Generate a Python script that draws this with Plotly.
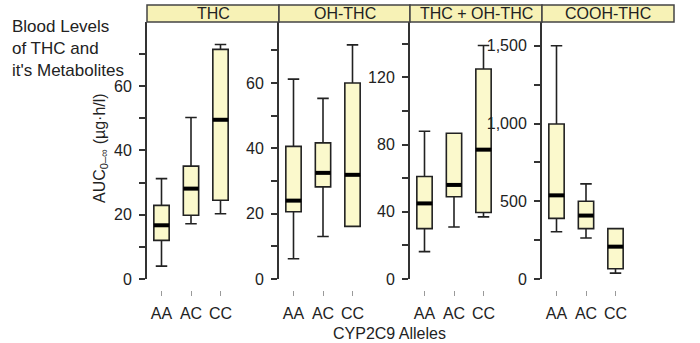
import plotly.graph_objects as go

# ---------------- data ----------------
alleles = ["AA", "AC", "CC"]
panels = ["THC", "OH-THC", "THC + OH-THC", "COOH-THC"]

thc_low = [4, 17.2, 20.3]
thc_q1 = [12, 19.8, 24.5]
thc_med = [16.7, 28.1, 49.5]
thc_q3 = [22.9, 35.1, 71.4]
thc_high = [31.2, 50.2, 72.9]

oh_low = [6.2, 13, 16.1]
oh_q1 = [20.6, 28.2, 16.1]
oh_med = [24, 32.5, 31.9]
oh_q3 = [40.6, 41.7, 60]
oh_high = [61.2, 55.3, 71.7]

sum_low = [16.3, 31, 37]
sum_q1 = [30, 49, 39.6]
sum_med = [45, 56, 77]
sum_q3 = [61, 86.8, 125]
sum_high = [88, 86.8, 139]

cooh_low = [304, 264, 38]
cooh_q1 = [390, 324, 66]
cooh_med = [538, 408, 208]
cooh_q3 = [997, 500, 324]
cooh_high = [1500, 612, 324]

series = [
    (thc_low, thc_q1, thc_med, thc_q3, thc_high),
    (oh_low, oh_q1, oh_med, oh_q3, oh_high),
    (sum_low, sum_q1, sum_med, sum_q3, sum_high),
    (cooh_low, cooh_q1, cooh_med, cooh_q3, cooh_high),
]

# ---------------- styling ----------------
W, H = 700, 343
FONT = "Liberation Sans, Arial, Helvetica, sans-serif"
TXT = "#222222"
BOX_FILL = "#FBF9CC"
STRIP_FILL = "#F7F2B6"
LINE = "#222222"

def fx(p):
    return p / W

def fy(p):
    return 1 - p / H

lefts = [147, 279, 410, 542]
rights = [279, 410, 542, 674]
y_top_px, y_bot_px = 22, 279
xaxis_px = 290
step_px, off_px = 29.5, 14.5
box_w = 0.52

y_ranges = [[0, 79.9], [0, 78.7], [0, 153], [0, 1653]]
y_dticks = [20, 20, 40, 500]
y_minor = [10, 10, 20, 250]
y_formats = ["d", "d", "d", ",d"]

fig = go.Figure()
layout = dict(
    width=W, height=H, autosize=False,
    margin=dict(l=0, r=0, t=0, b=0, pad=0),
    paper_bgcolor="white", plot_bgcolor="rgba(0,0,0,0)",
    showlegend=False,
    font=dict(family=FONT, size=16, color=TXT),
)
shapes = []
annotations = []

for k in range(4):
    sfx = "" if k == 0 else str(k + 1)
    xa, ya = "x" + sfx, "y" + sfx
    low, q1, med, q3, high = series[k]
    pos = list(range(len(alleles)))
    fig.add_trace(go.Box(
        x=pos, q1=q1, median=med, q3=q3, lowerfence=low, upperfence=high,
        width=box_w, whiskerwidth=0.75, boxpoints=False,
        fillcolor=BOX_FILL, line=dict(color=LINE, width=1.6),
        xaxis=xa, yaxis=ya, hoverinfo="skip",
    ))
    mx, my = [], []
    for i, m in zip(pos, med):
        mx += [i - box_w / 2, i + box_w / 2, None]
        my += [m, m, None]
    fig.add_trace(go.Scatter(
        x=mx, y=my, mode="lines", line=dict(color="black", width=4),
        xaxis=xa, yaxis=ya, hoverinfo="skip",
    ))

    L, R = lefts[k], rights[k]
    x0 = -off_px / step_px
    x1 = x0 + (R - L) / step_px
    layout["xaxis" + sfx] = dict(
        domain=[fx(L), fx(R)], range=[x0, x1], automargin=False,
        anchor="free", position=fy(xaxis_px), side="bottom",
        tickvals=pos, ticktext=alleles,
        ticks="outside", ticklen=5, tickwidth=1, tickcolor="#9a9a9a",
        ticklabelstandoff=4,
        showline=False, showgrid=False, zeroline=False,
        tickfont=dict(size=16, color=TXT), fixedrange=True,
    )
    layout["yaxis" + sfx] = dict(
        domain=[fy(y_bot_px), fy(y_top_px)], range=y_ranges[k], anchor=xa,
        automargin=False,
        dtick=y_dticks[k], tick0=0, tickformat=y_formats[k],
        ticks="outside", ticklen=6, tickwidth=1.5, tickcolor="#333333",
        minor=dict(dtick=y_minor[k], tick0=0, ticks="outside", ticklen=6,
                   tickwidth=1.5, tickcolor="#333333"),
        showline=True, linewidth=2, linecolor="#333333",
        showgrid=False, zeroline=False, ticklabelstandoff=4,
        tickfont=dict(size=16, color=TXT), fixedrange=True,
    )
    # header strip
    shapes.append(dict(
        type="rect", xref="paper", yref="paper",
        x0=fx(L), x1=fx(R), y0=fy(22), y1=fy(5),
        fillcolor=STRIP_FILL, line=dict(color="#444444", width=1.5), layer="above",
    ))
    annotations.append(dict(
        text=panels[k], xref="paper", yref="paper",
        x=fx((L + R) / 2), y=fy(13.5), xanchor="center", yanchor="middle",
        showarrow=False, font=dict(size=16, color=TXT),
    ))

annotations.append(dict(
    text="Blood Levels<br>of THC and<br>it's Metabolites",
    xref="paper", yref="paper", x=fx(10), y=fy(15), xanchor="left", yanchor="top",
    align="left", showarrow=False, font=dict(size=17, color=TXT),
))
annotations.append(dict(
    text="AUC<sub>0–∞</sub> (µg·h/l)",
    xref="paper", yref="paper", x=fx(100), y=fy(148), xanchor="center", yanchor="middle",
    textangle=-90, showarrow=False, font=dict(size=16, color=TXT),
))
annotations.append(dict(
    text="CYP2C9 Alleles",
    xref="paper", yref="paper", x=fx(389), y=fy(323), xanchor="center", yanchor="top",
    showarrow=False, font=dict(size=16, color=TXT),
))

layout["shapes"] = shapes
layout["annotations"] = annotations
fig.update_layout(**layout)
fig.write_html("out.html", config={"displayModeBar": False})
